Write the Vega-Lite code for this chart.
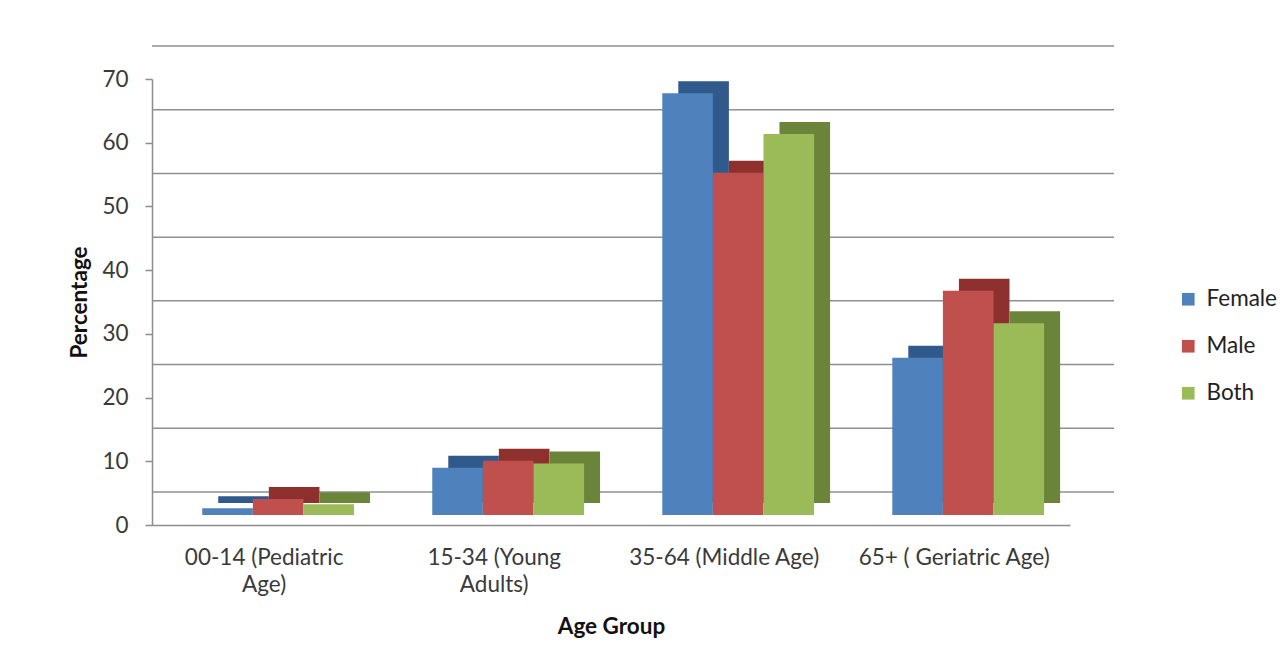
{
  "$schema": "https://vega.github.io/schema/vega-lite/v6.json",
  "width": 918,
  "height": 446,
  "autosize": {"type": "none"},
  "padding": {"left": 152, "top": 79, "right": 215, "bottom": 144},
  "background": "white",
  "config": {
    "font": "Lato",
    "view": {"stroke": null},
    "axis": {"domainColor": "#8c8c8c", "domainWidth": 1.5, "tickColor": "#8c8c8c", "tickWidth": 1.5, "labelColor": "#3a3a3a", "titleColor": "#111111", "labelFontSize": 22.5, "titleFontSize": 22.5, "titleFontWeight": "bold", "labelFont": "Lato", "titleFont": "Lato"}
  },
  "datasets": {
    "bars": [
      {"group": "00-14 (Pediatric Age)", "sex": "Female", "value": 1.05},
      {"group": "00-14 (Pediatric Age)", "sex": "Male", "value": 2.5},
      {"group": "00-14 (Pediatric Age)", "sex": "Both", "value": 1.7},
      {"group": "15-34 (Young Adults)", "sex": "Female", "value": 7.4},
      {"group": "15-34 (Young Adults)", "sex": "Male", "value": 8.5},
      {"group": "15-34 (Young Adults)", "sex": "Both", "value": 8.1},
      {"group": "35-64 (Middle Age)", "sex": "Female", "value": 66.2},
      {"group": "35-64 (Middle Age)", "sex": "Male", "value": 53.7},
      {"group": "35-64 (Middle Age)", "sex": "Both", "value": 59.8},
      {"group": "65+ ( Geriatric Age)", "sex": "Female", "value": 24.7},
      {"group": "65+ ( Geriatric Age)", "sex": "Male", "value": 35.2},
      {"group": "65+ ( Geriatric Age)", "sex": "Both", "value": 30.1}
    ],
    "grid": [
      {"value": 0}, {"value": 10}, {"value": 20}, {"value": 30},
      {"value": 40}, {"value": 50}, {"value": 60}, {"value": 70}
    ]
  },
  "encoding": {
    "y": {
      "field": "value",
      "type": "quantitative",
      "scale": {"domain": [0, 70], "nice": false, "zero": true},
      "axis": {"values": [0, 10, 20, 30, 40, 50, 60, 70], "grid": false, "tickSize": 7, "labelPadding": 17, "title": "Percentage", "titlePadding": 10}
    }
  },
  "layer": [
    {
      "data": {"name": "grid"},
      "mark": {"type": "rule", "xOffset": 44, "yOffset": -33, "color": "#8f8f8f", "strokeWidth": 1.5}
    },
    {
      "data": {"name": "bars"},
      "mark": {"type": "bar", "yOffset": -22},
      "encoding": {
        "x": {"field": "group", "type": "nominal", "sort": null, "scale": {"paddingInner": 0.34, "paddingOuter": 0.1655, "align": 0.66}},
        "xOffset": {"field": "sex", "type": "nominal", "sort": null, "scale": {"domain": ["Female", "Male", "Both"], "range": [16, 167.8], "paddingInner": 0, "paddingOuter": 0}},
        "color": {"field": "sex", "type": "nominal", "scale": {"domain": ["Female", "Male", "Both"], "range": ["#30598C", "#8E302E", "#6A8539"]}, "legend": null}
      }
    },
    {
      "data": {"name": "bars"},
      "mark": {"type": "bar", "yOffset": -10},
      "encoding": {
        "x": {
          "field": "group", "type": "nominal", "sort": null,
          "scale": {"paddingInner": 0.34, "paddingOuter": 0.1655, "align": 0.66},
          "axis": {
            "title": "Age Group", "ticks": false, "labelAngle": 0, "labelAlign": "center", "labelBaseline": "top", "labelOffset": -14, "labelPadding": 21, "labelLineHeight": 27, "labelLimit": 400, "titlePadding": 20,
            "labelExpr": "datum.value == '00-14 (Pediatric Age)' ? ['00-14 (Pediatric', 'Age)'] : datum.value == '15-34 (Young Adults)' ? ['15-34 (Young', 'Adults)'] : datum.value"
          }
        },
        "xOffset": {"field": "sex", "type": "nominal", "sort": null, "scale": {"domain": ["Female", "Male", "Both"], "paddingInner": 0, "paddingOuter": 0}},
        "color": {
          "field": "sex", "type": "nominal",
          "scale": {"domain": ["Female", "Male", "Both"], "range": ["#4F81BD", "#C0504D", "#9BBB59"]},
          "legend": {"title": null, "orient": "none", "legendX": 1025, "legendY": 209, "symbolType": "square", "symbolSize": 160, "symbolStrokeWidth": 0, "labelFontSize": 22.5, "labelColor": "#222222", "labelFont": "Lato", "rowPadding": 24, "labelOffset": 7}
        }
      }
    }
  ],
  "resolve": {"scale": {"color": "independent", "xOffset": "independent"}}
}
